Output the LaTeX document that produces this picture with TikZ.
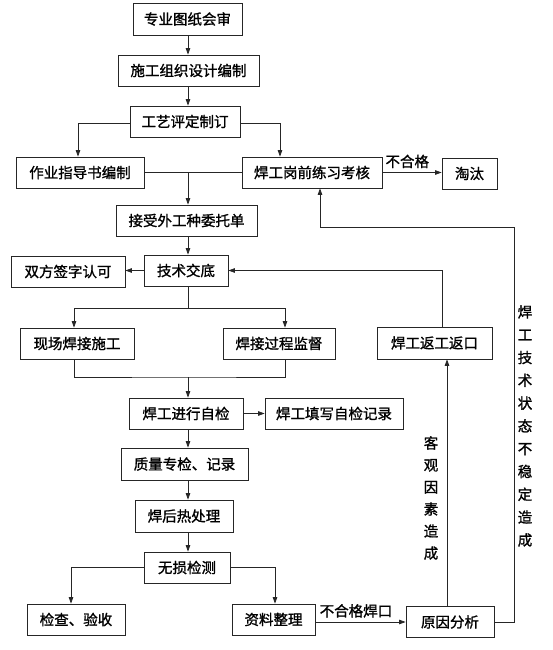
\documentclass[tikz,border=0pt]{standalone}
\usepackage{fontspec}
\newfontfamily\cjk[FakeBold=1.2]{Noto Sans CJK SC}
\usetikzlibrary{arrows.meta,calc}
\begin{document}
\begin{tikzpicture}[x=1pt,y=-1pt,
 box/.style={draw=black!85, line width=0.75pt, minimum height=31pt, inner sep=0pt, font=\cjk\fontsize{14.5}{14.5}\selectfont},
 line/.style={draw=black!85, line width=0.75pt},
 arr/.style={line, -{Triangle[length=6.5pt,width=4.5pt]}},
 lbl/.style={font=\cjk\fontsize{14.5}{14.5}\selectfont, inner sep=0pt},
 vlbl/.style={inner sep=0pt, align=center}]
\useasboundingbox (0,0) rectangle (553,650);
\fill[white] (0,0) rectangle (553,650);

\node[box, minimum width=109pt, minimum height=32pt] (n1) at (187.5,19) {专业图纸会审};
\node[box, minimum width=141pt] (n2) at (188.5,70.5) {施工组织设计编制};
\node[box, minimum width=110pt] (n3) at (185,121.5) {工艺评定制订};
\node[box, minimum width=128pt] (n4) at (80,172.5) {作业指导书编制};
\node[box, minimum width=140pt] (n5) at (312,172.5) {焊工岗前练习考核};
\node[box, minimum width=55pt] (n6) at (469.5,173.5) {淘汰};
\node[box, minimum width=141pt] (n7) at (186.5,220.5) {接受外工种委托单};
\node[box, minimum width=84pt] (n8) at (186,270.5) {技术交底};
\node[box, minimum width=114pt] (n9) at (68,271.5) {双方签字认可};
\node[box, minimum width=114pt] (n10) at (77,343.5) {现场焊接施工};
\node[box, minimum width=112pt] (n11) at (279,343.5) {焊接过程监督};
\node[box, minimum width=115pt, minimum height=32pt] (n12) at (434.5,343) {焊工返工返口};
\node[box, minimum width=114pt] (n13) at (186,413.5) {焊工进行自检};
\node[box, minimum width=138pt] (n14) at (334,413.5) {焊工填写自检记录};
\node[box, minimum width=127pt, minimum height=32pt] (n15) at (184.5,464) {质量专检、记录};
\node[box, minimum width=98pt, minimum height=32pt] (n16) at (184,516) {焊后热处理};
\node[box, minimum width=86pt] (n17) at (187,567.5) {无损检测};
\node[box, minimum width=98pt] (n18) at (76,619.5) {检查、验收};
\node[box, minimum width=83pt] (n19) at (273.5,619.5) {资料整理};
\node[box, minimum width=88pt] (n20) at (450,622) {原因分析};

\coordinate (spine) at (188,0);
\draw[arr] (n1.south -| spine) -- (n2.north -| spine);
\draw[arr] (n2.south -| spine) -- (n3.north -| spine);
\draw[arr] ([yshift=-1.5pt]n3.west) -| ([xshift=-2pt]n4.north);
\draw[arr] ([yshift=-1.5pt]n3.east) -| ([xshift=-32pt]n5.north);
\draw[line] (n4.east) -- (n5.west);
\draw[arr] (n4.east -| spine) -- (n7.north -| spine);
\draw[arr] (n5.east) -- (n5.east -| n6.west) node[lbl, above=4pt, pos=0.42] {不合格};
\draw[arr] (n7.south -| spine) -- (n8.north -| spine);
\draw[arr] (n8.west) -- (n8.west -| n9.east);
\coordinate (b1) at (188,308);
\draw[line] (n8.south -| spine) -- (b1);
\draw[arr] (b1) -| ([xshift=-3pt]n10.north);
\draw[arr] (b1) -| ([xshift=6pt]n11.north);
\coordinate (m1) at (188,377);
\draw[line] ([xshift=-3pt]n10.south) |- (m1) -| ([xshift=6pt]n11.south);
\draw[arr] (m1) -- (n13.north -| spine);
\draw[arr] (n13.east) -- (n13.east -| n14.west);
\draw[arr] (n13.south -| spine) -- (n15.north -| spine);
\draw[arr] (n15.south -| spine) -- (n16.north -| spine);
\draw[arr] (n16.south -| spine) -- (n17.north -| spine);
\draw[arr] (n17.west) -| ([xshift=-5pt]n18.north);
\draw[arr] (n17.east) -| ([xshift=1.5pt]n19.north);
\draw[arr] (n19.east |- n20.west) -- (n20.west) node[lbl, above=4pt, pos=0.45] {不合格焊口};
\draw[arr] ([xshift=-3pt]n20.north) -- ([xshift=-3pt]n20.north |- n12.south);
\node[vlbl, font=\cjk\fontsize{14.5}{22}\selectfont] (t1) at (431,498) {客\\观\\因\\素\\造\\成};
\coordinate (r1) at (514,227);
\draw[arr] (n20.east) -| (r1) -| ([xshift=8pt]n5.south);
\node[vlbl, font=\cjk\fontsize{14.5}{22.8}\selectfont] (t2) at (525,426) {焊\\工\\技\\术\\状\\态\\不\\稳\\定\\造\\成};
\draw[arr] ([xshift=7.5pt]n12.north) |- (n8.east);
\end{tikzpicture}
\end{document}
